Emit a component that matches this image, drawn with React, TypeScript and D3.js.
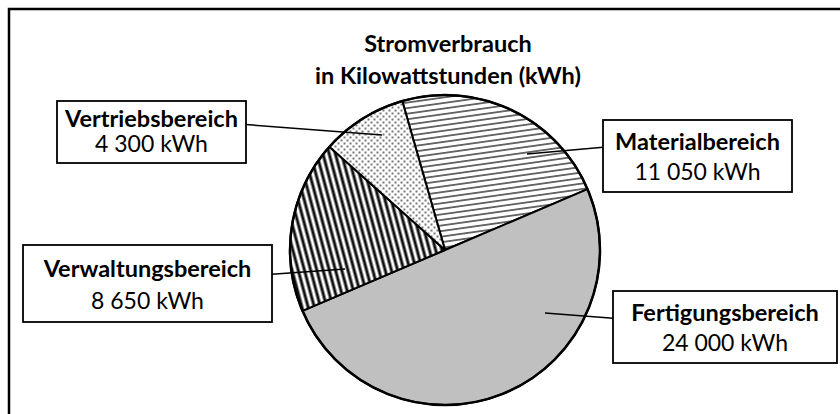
import React from 'react'
import * as d3 from 'd3'

const categories = ['Materialbereich', 'Fertigungsbereich', 'Verwaltungsbereich', 'Vertriebsbereich']
const values = [11050, 24000, 8650, 4300]
const valueLabels = ['11 050 kWh', '24 000 kWh', '8 650 kWh', '4 300 kWh']
const fills = ['url(#hlines)', '#c0c0c0', 'url(#vlines)', 'url(#dots)']

// label box layout (x, y, w, h) and leader line inner end
const boxes = [
  { x: 603, y: 120, w: 189, h: 72, lx: 527, ly: 154, side: 'left' },
  { x: 613, y: 291, w: 224, h: 72, lx: 545, ly: 313, side: 'left' },
  { x: 23, y: 245, w: 249, h: 77, lx: 345, ly: 269, side: 'right' },
  { x: 57, y: 101, w: 189, h: 62, lx: 382, ly: 135, side: 'right' },
]

const width = 840
const height = 414
const cx = 445
const cy = 250
const radius = 155
const font = 'Lato, "Open Sans", sans-serif'

export default function App() {
  const pie = d3.pie<number>()
    .sort(null)
    .startAngle(-16 * Math.PI / 180)
    .endAngle(-16 * Math.PI / 180 + 2 * Math.PI)
  const arcs = pie(values)
  const arc = d3.arc<d3.PieArcDatum<number>>().innerRadius(0).outerRadius(radius)

  return (
    <svg width={width} height={height} style={{ position: 'absolute', left: 0, top: 0 }}>
      <defs>
        <pattern id="hlines" width="10" height="5.5" patternUnits="userSpaceOnUse" patternTransform="rotate(-8)">
          <rect width="10" height="5.5" fill="white" />
          <line x1="0" y1="2.75" x2="10" y2="2.75" stroke="#222" strokeWidth="1.3" />
        </pattern>
        <pattern id="vlines" width="6" height="10" patternUnits="userSpaceOnUse" patternTransform="rotate(-15)">
          <rect width="6" height="10" fill="white" />
          <line x1="3" y1="0" x2="3" y2="10" stroke="#111" strokeWidth="3" />
        </pattern>
        <pattern id="dots" width="6" height="6" patternUnits="userSpaceOnUse">
          <rect width="6" height="6" fill="white" />
          <rect x="0.5" y="0.5" width="2" height="2" fill="#777" />
          <rect x="3.5" y="3.5" width="2" height="2" fill="#777" />
        </pattern>
      </defs>
      <rect x={0} y={0} width={width} height={height} fill="white" />
      <rect x={9} y={9} width={width + 20} height={height + 20} fill="none" stroke="#000" strokeWidth={2.5} />

      <text x={448} y={52} textAnchor="middle" fontFamily={font} fontWeight="bold" fontSize={23.5}>Stromverbrauch</text>
      <text x={448} y={84} textAnchor="middle" fontFamily={font} fontWeight="bold" fontSize={23.5}>in Kilowattstunden (kWh)</text>

      <g transform={`translate(${cx},${cy})`}>
        {arcs.map((a, i) => (
          <path key={i} d={arc(a) || ''} fill={fills[i]} stroke="#000" strokeWidth={2} strokeLinejoin="round" />
        ))}
        <circle r={radius} fill="none" stroke="#000" strokeWidth={2.5} />
      </g>

      {boxes.map((b, i) => {
        const bx = b.side === 'left' ? b.x : b.x + b.w
        const by = b.y + b.h * 0.38
        return (
          <g key={i}>
            <line x1={bx} y1={by} x2={b.lx} y2={b.ly} stroke="#000" strokeWidth={1.5} />
            <rect x={b.x} y={b.y} width={b.w} height={b.h} fill="white" stroke="#000" strokeWidth={1.8} />
            <text x={b.x + b.w / 2} y={b.y + b.h * 0.42} textAnchor="middle" fontFamily={font} fontWeight="bold" fontSize={23.5}>{categories[i]}</text>
            <text x={b.x + b.w / 2} y={b.y + b.h * 0.83} textAnchor="middle" fontFamily={font} fontSize={23}>{valueLabels[i]}</text>
          </g>
        )
      })}
    </svg>
  )
}
